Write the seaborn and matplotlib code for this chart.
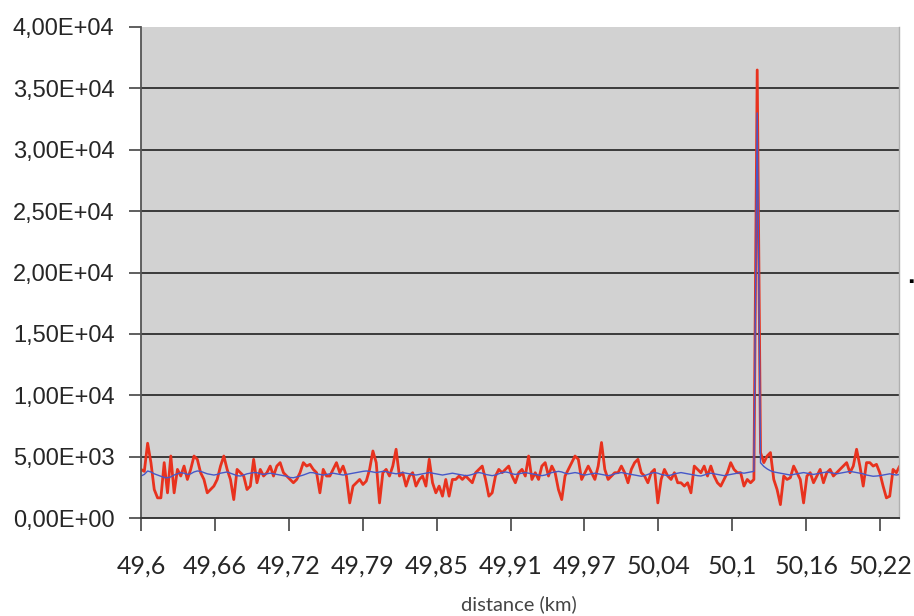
import numpy as np
import matplotlib
matplotlib.use('Agg')
import matplotlib.pyplot as plt
import seaborn as sns

# measured signal (red) and smoothed signal (blue), one value per sample
red_values = [
    3960, 3800, 6090, 4510, 2320, 1640, 1640, 4510, 2050, 5050,
    2050, 3960, 3420, 4230, 3140, 3960, 5050, 4780, 3690, 3140,
    2050, 2320, 2600, 3140, 4230, 5050, 3960, 3140, 1500, 3960,
    3690, 3420, 2320, 2600, 4780, 2870, 3960, 3420, 3690, 4230,
    3420, 4230, 4510, 3690, 3420, 3140, 2870, 3140, 3690, 4510,
    4230, 4370, 3960, 3690, 2050, 3960, 3420, 3420, 3960, 4510,
    3690, 4230, 3420, 1230, 2600, 2870, 3140, 2730, 3010, 3960,
    5460, 4510, 1230, 3690, 3960, 3420, 4230, 5600, 3420, 3690,
    2600, 3420, 3690, 2600, 3140, 3420, 2600, 4780, 2870, 2050,
    2600, 1780, 3140, 1780, 3140, 3140,
    3420, 3140, 3420, 3140, 2870, 3690, 3960, 4230, 3140, 1780,
    2050, 3420, 3960, 3690, 3960, 4230, 3420, 2870, 3690, 3960,
    3420, 5050, 3140, 3690, 3140, 4230, 4510, 3420, 4230, 3690,
    2320, 1500, 3420, 3960, 4510, 5050, 4780, 3140, 3690, 4230,
    3690, 3140, 4230, 6150, 3960, 3140, 3420, 3690, 3690, 4230,
    3690, 2870, 3960, 4510, 4780, 3690, 3420, 2870, 3690, 3960,
    1230, 3140, 3960, 3420, 3140, 3690, 2870, 2870, 2600, 2870,
    2050, 4230, 3960, 3690, 4230, 3420, 4230, 3420, 2870, 2600,
    3140, 3690, 4510, 3960, 3690, 3690, 2600, 3140, 2870, 3140,
    36500,
    5330, 4510, 5050, 5330, 3140, 2320, 1090, 3420, 3140, 3280,
    4230, 3690, 3140, 1230, 3420, 3690, 2870, 3420, 3960, 2870,
    3690, 3960, 3420, 3690, 3960, 4230, 4510, 3690, 4230, 5600,
    4230, 2600, 4510, 4510, 4230, 4370, 3690, 2600, 1640, 1780,
    3960, 3690, 4230,
]

blue_values = [
    3420, 3550, 3830, 3750, 3600, 3500, 3400, 3300, 3280, 3350,
    3500, 3600, 3700, 3650, 3550, 3600, 3750, 3830, 3800, 3700,
    3600, 3550, 3500, 3550, 3650, 3700, 3750, 3650, 3550, 3450,
    3420, 3500, 3600, 3650, 3700, 3690, 3600, 3550, 3600, 3650,
    3600, 3550, 3500, 3450, 3400, 3300, 3280, 3350, 3420, 3500,
    3600, 3700, 3690, 3600, 3550, 3500, 3550, 3600, 3650, 3600,
    3550, 3500, 3550, 3600, 3650, 3700, 3750, 3800, 3830, 3800,
    3750, 3700, 3750, 3800, 3780, 3700, 3650, 3600, 3650, 3700,
    3650, 3600, 3550, 3500, 3550, 3600, 3650, 3700, 3650, 3600,
    3550, 3500, 3550, 3600, 3650, 3600,
    3550, 3500, 3450, 3480, 3550, 3650, 3700, 3650, 3550, 3500,
    3450, 3500, 3600, 3700, 3750, 3700, 3600, 3550, 3600, 3650,
    3700, 3650, 3600, 3550, 3500, 3450, 3500, 3600, 3700, 3750,
    3800, 3750, 3650, 3600, 3650, 3700, 3650, 3550, 3500, 3550,
    3600, 3650, 3600, 3550, 3500, 3450, 3500, 3600, 3650, 3700,
    3650, 3600, 3550, 3500, 3450, 3400, 3450, 3550, 3650, 3700,
    3650, 3550, 3500, 3450, 3500, 3600, 3650, 3700, 3650, 3600,
    3550, 3500, 3450, 3420, 3500, 3600, 3650, 3600, 3550, 3500,
    3450, 3500, 3550, 3600, 3650, 3700, 3650, 3700, 3750, 3800,
    33000,
    4500, 4200, 4000, 3850, 3750, 3700, 3650, 3600, 3550, 3500,
    3550, 3600, 3650, 3700, 3650, 3600, 3550, 3600, 3650, 3700,
    3750, 3700, 3650, 3600, 3650, 3700, 3750, 3800, 3750, 3700,
    3650, 3600, 3500, 3450, 3400, 3420, 3450, 3500, 3550, 3600,
    3550, 3500, 3550,
]

x_tick_labels = ['49,6', '49,66', '49,72', '49,79', '49,85', '49,91',
                 '49,97', '50,04', '50,1', '50,16', '50,22']
y_ticks = [0, 5000, 10000, 15000, 20000, 25000, 30000, 35000, 40000]

sns.set_style('white')
plt.rcParams['font.family'] = ['Liberation Sans', 'DejaVu Sans']

fig = plt.figure(figsize=(9.14, 6.16), dpi=100)
ax = fig.add_axes([141 / 914, 1 - 518 / 616, (899 - 141) / 914, (518 - 27) / 616])
ax.set_facecolor('#d2d2d2')

idx = np.arange(len(red_values))
sns.lineplot(x=idx, y=red_values, color='#e8321e', linewidth=2.0, ax=ax)
sns.lineplot(x=idx, y=blue_values, color='#4658c8', linewidth=1.0, ax=ax)

ax.set_xlim(0, 228.8)
ax.set_ylim(0, 40000)

# horizontal grid
ax.set_yticks(y_ticks)
ax.set_yticklabels([f'{v:.2E}'.replace('.', ',') for v in y_ticks], fontsize=17)
for v in y_ticks[:-1]:
    ax.axhline(v, color='#3a3a3a', linewidth=1.4, zorder=0.5)

step = 74 / 3.317
ax.set_xticks([i * step for i in range(len(x_tick_labels))])
ax.set_xticklabels(x_tick_labels, fontsize=18, family=['Lato', 'DejaVu Sans'])

ax.tick_params(axis='y', direction='out', length=9, width=1.2, color='#444444', pad=10, left=True)
ax.tick_params(axis='x', direction='out', length=9, width=1.2, color='#444444', pad=17, bottom=True)

ax.spines['top'].set_visible(False)
ax.spines['left'].set_color('#555555')
ax.spines['left'].set_linewidth(1.3)
ax.spines['bottom'].set_color('#3a3a3a')
ax.spines['bottom'].set_linewidth(1.4)
ax.spines['right'].set_color('#b0b0b0')
ax.spines['right'].set_linewidth(1)

fig.text(519 / 914, 1 - 604 / 616, 'distance (km)', ha='center', va='center',
         fontsize=14.5, color='#444444', family=['Lato', 'DejaVu Sans'])
fig.text(911 / 914, 1 - 282 / 616, '\u25aa', ha='center', va='center', fontsize=11, color='black')

fig.savefig('out.png', dpi=100)
